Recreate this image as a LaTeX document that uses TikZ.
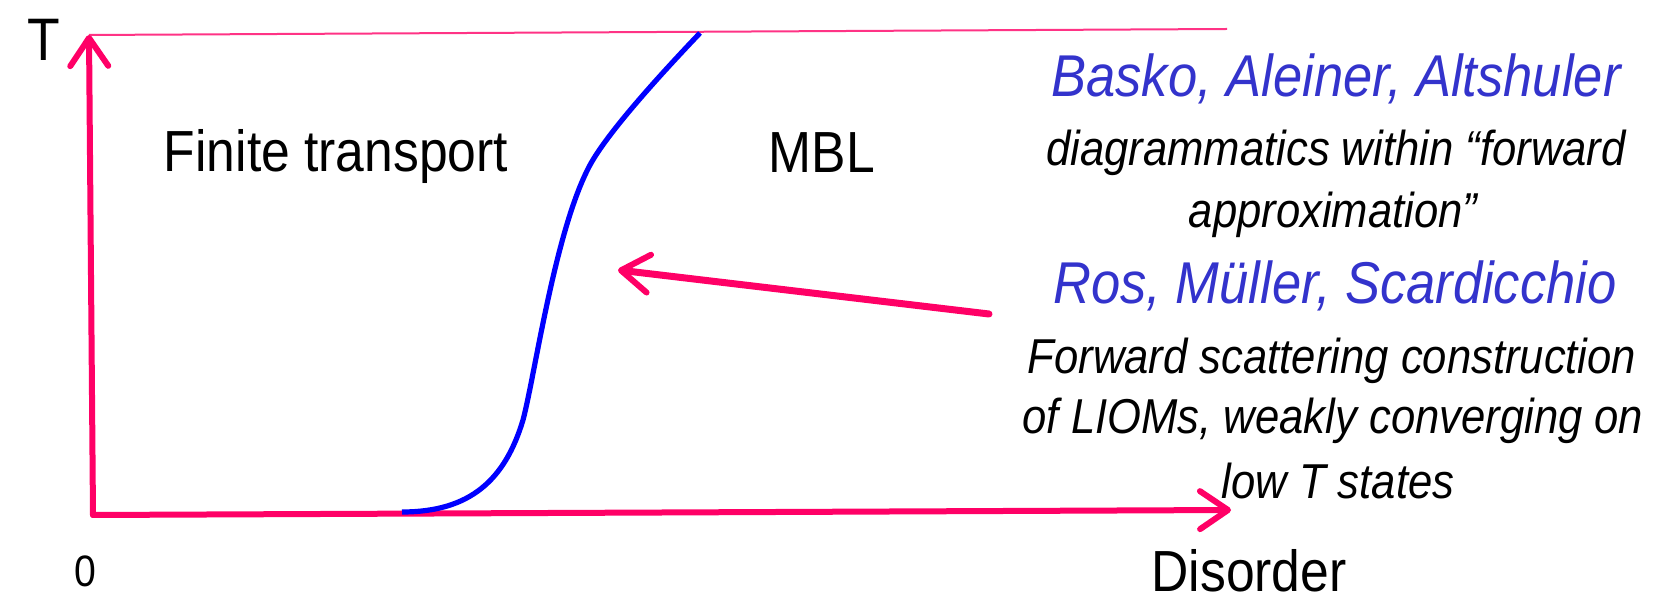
\documentclass[tikz,border=0pt]{standalone}
\usepackage{fontspec}
\setmainfont{Liberation Sans}
\usetikzlibrary{arrows.meta}
\definecolor{axpink}{HTML}{FF0066}
\definecolor{namblue}{HTML}{3333CC}
\definecolor{curveblue}{HTML}{0000FF}
\newcommand{\nar}[1]{\scalebox{0.89}[1]{#1}}
\tikzset{
  axis/.style={draw=axpink, line width=3pt, line cap=round,
    -{Straight Barb[length=14pt, width=19pt, round, line width=3pt]}},
  biglab/.style={inner sep=0pt, font=\fontsize{29pt}{34pt}\selectfont},
  namelab/.style={inner sep=0pt, text=namblue, font=\fontsize{29.5pt}{34pt}\selectfont\itshape},
  refline/.style={inner sep=0pt, font=\fontsize{24.5pt}{29pt}\selectfont\itshape},
}
\begin{document}
\begin{tikzpicture}[x=0.5pt, y=-0.5pt]
\useasboundingbox (0,0) rectangle (1659,603);
% axes
\coordinate (O) at (93,515);
\coordinate (Ttip) at (89,35);
\coordinate (Dtip) at (1231,510);
\coordinate (Ltop) at (1227,29);
\draw[axpink!80, line width=1pt] (Ttip) -- (Ltop);
\draw[axis] (O) -- (Ttip);
\draw[axis] (O) -- (Dtip);
% phase boundary
\draw[curveblue, line width=2.6pt]
  (402,512) .. controls (470,512) and (505,480) .. (523,420)
            .. controls (535,375) and (555,230) .. (590,165)
            .. controls (608,132) and (660,75) .. (700,33);
% pointer arrow
\coordinate (pstart) at (989,314);
\coordinate (pend) at (618,270);
\draw[axis, line width=3.5pt] (pstart) -- (pend);
% labels
\node[inner sep=0pt, font=\fontsize{30pt}{34pt}\selectfont] (T) at (44,40) {\nar{T}};
\node[inner sep=0pt, font=\fontsize{22pt}{26pt}\selectfont] (zero) at (85,571) {\nar{0}};
\node[biglab] (dis) at (1249,571) {\nar{Disorder}};
\node[biglab] (fin) at (336,157) {\nar{Finite transport}};
\node[biglab] (mbl) at (822,153) {\nar{MBL}};
\node[namelab] (baa) at (1336,79) {\nar{Basko, Aleiner, Altshuler}};
\node[refline] (r1) at (1336,153) {\nar{diagrammatics within “forward}};
\node[refline] (r2) at (1333,215) {\nar{approximation”}};
\node[namelab] (rms) at (1335,286) {\nar{Ros, Müller, Scardicchio}};
\node[refline] (r3) at (1332,361) {\nar{Forward scattering construction}};
\node[refline] (r4) at (1333,421) {\nar{of LIOMs, weakly converging on}};
\node[refline] (r5) at (1338,481) {\nar{low T states}};
\end{tikzpicture}
\end{document}
